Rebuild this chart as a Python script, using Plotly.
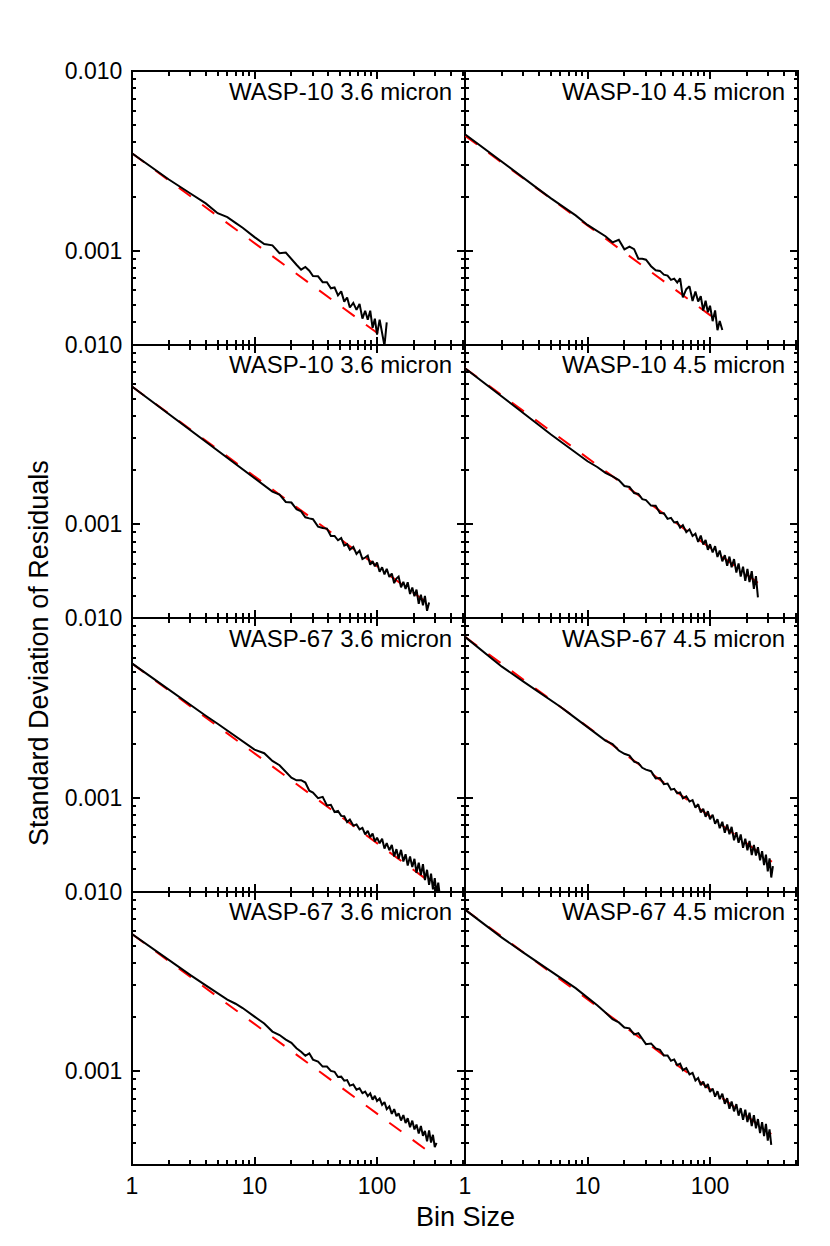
import numpy as np
import plotly.graph_objects as go
from plotly.subplots import make_subplots

# bin sizes used for the binned residual curves
bins = [1, 2, 3, 4, 5, 6, 7, 8, 10, 12, 14, 16, 18, 20, 22, 24, 26, 28, 30, 33,
        36, 39, 42, 45, 48, 51, 54, 57, 60, 64, 68, 72, 76, 80, 84, 88, 92, 96,
        100, 105, 110, 115, 120, 126, 132, 138, 144, 150, 157, 164, 171, 178,
        186, 194, 202, 210, 219, 228, 237, 246, 256, 266, 276, 286, 296, 306,
        316, 326]

# log10 of the standard deviation of the residuals
w10_36_a = [-2.458, -2.604, -2.682, -2.737, -2.792, -2.814, -2.846, -2.873, -2.925, -2.963,
            -2.971, -3.015, -3.011, -3.049, -3.079, -3.106, -3.091, -3.112, -3.142, -3.143,
            -3.176, -3.176, -3.21, -3.205, -3.249, -3.227, -3.284, -3.261, -3.317, -3.291,
            -3.33, -3.297, -3.379, -3.335, -3.385, -3.335, -3.43, -3.379, -3.468, -3.384,
            -3.45, -3.53, -3.40]
w10_45_a = [-2.352, -2.508, -2.597, -2.659, -2.708, -2.746, -2.779, -2.804, -2.857, -2.892,
            -2.92, -2.954, -2.94, -2.993, -2.978, -2.992, -3.045, -3.046, -3.051, -3.087,
            -3.11, -3.113, -3.134, -3.139, -3.163, -3.156, -3.178, -3.155, -3.261, -3.215,
            -3.199, -3.281, -3.228, -3.284, -3.254, -3.334, -3.279, -3.343, -3.307, -3.393,
            -3.333, -3.443, -3.392, -3.442]
w10_36_b = [-2.234, -2.388, -2.478, -2.541, -2.591, -2.631, -2.665, -2.696, -2.742, -2.784,
            -2.819, -2.836, -2.877, -2.88, -2.917, -2.929, -2.962, -2.968, -2.973, -3.014,
            -3.022, -3.025, -3.066, -3.066, -3.09, -3.078, -3.12, -3.112, -3.143, -3.127,
            -3.166, -3.148, -3.195, -3.186, -3.176, -3.226, -3.206, -3.235, -3.214, -3.265,
            -3.24, -3.28, -3.249, -3.294, -3.275, -3.329, -3.303, -3.292, -3.352, -3.322,
            -3.361, -3.324, -3.389, -3.353, -3.402, -3.365, -3.444, -3.393, -3.452, -3.40,
            -3.483, -3.437]
w10_45_b = [-2.132, -2.288, -2.383, -2.448, -2.50, -2.539, -2.575, -2.604, -2.65, -2.682,
            -2.715, -2.734, -2.755, -2.788, -2.793, -2.827, -2.832, -2.861, -2.866, -2.897,
            -2.898, -2.938, -2.939, -2.971, -2.965, -2.991, -2.988, -3.02, -3.006, -3.045,
            -3.029, -3.066, -3.053, -3.099, -3.064, -3.114, -3.089, -3.143, -3.112, -3.158,
            -3.123, -3.183, -3.147, -3.207, -3.173, -3.232, -3.181, -3.24, -3.195, -3.27,
            -3.219, -3.292, -3.237, -3.316, -3.25, -3.323, -3.262, -3.361, -3.29, -3.408]
w67_36_a = [-2.253, -2.401, -2.484, -2.544, -2.589, -2.626, -2.662, -2.689, -2.733, -2.753,
            -2.796, -2.82, -2.856, -2.889, -2.904, -2.903, -2.916, -2.962, -2.972, -3.003,
            -2.996, -3.044, -3.04, -3.08, -3.074, -3.102, -3.104, -3.136, -3.122, -3.156,
            -3.15, -3.177, -3.169, -3.205, -3.185, -3.22, -3.20, -3.244, -3.223, -3.254,
            -3.229, -3.284, -3.253, -3.293, -3.264, -3.328, -3.287, -3.341, -3.291, -3.356,
            -3.315, -3.378, -3.328, -3.387, -3.341, -3.419, -3.363, -3.432, -3.371, -3.459,
            -3.402, -3.486, -3.424, -3.511, -3.449, -3.536, -3.473, -3.55]
w67_45_a = [-2.105, -2.271, -2.354, -2.411, -2.455, -2.494, -2.528, -2.557, -2.61, -2.645,
            -2.683, -2.702, -2.738, -2.756, -2.766, -2.80, -2.808, -2.834, -2.844, -2.853,
            -2.893, -2.891, -2.925, -2.922, -2.956, -2.951, -2.976, -2.971, -3.004, -2.993,
            -3.022, -3.014, -3.056, -3.037, -3.082, -3.062, -3.107, -3.076, -3.12, -3.096,
            -3.146, -3.121, -3.17, -3.135, -3.196, -3.15, -3.204, -3.163, -3.238, -3.193,
            -3.252, -3.205, -3.28, -3.229, -3.293, -3.241, -3.32, -3.264, -3.323, -3.276,
            -3.349, -3.298, -3.376, -3.318, -3.411, -3.338, -3.445, -3.382]
w67_36_b = [-2.237, -2.384, -2.466, -2.523, -2.567, -2.602, -2.625, -2.649, -2.697, -2.735,
            -2.78, -2.799, -2.825, -2.843, -2.873, -2.892, -2.915, -2.901, -2.936, -2.947,
            -2.975, -2.975, -2.999, -3.004, -3.033, -3.031, -3.053, -3.05, -3.081, -3.075,
            -3.104, -3.096, -3.123, -3.114, -3.139, -3.124, -3.159, -3.138, -3.167, -3.153,
            -3.188, -3.173, -3.212, -3.197, -3.238, -3.212, -3.251, -3.235, -3.275, -3.245,
            -3.289, -3.262, -3.312, -3.276, -3.325, -3.298, -3.347, -3.306, -3.36, -3.333,
            -3.391, -3.33, -3.398, -3.355, -3.423, -3.40]
w67_45_b = [-2.101, -2.257, -2.34, -2.397, -2.441, -2.478, -2.509, -2.538, -2.591, -2.633,
            -2.674, -2.711, -2.729, -2.757, -2.762, -2.796, -2.789, -2.82, -2.85, -2.846,
            -2.874, -2.882, -2.913, -2.913, -2.942, -2.935, -2.967, -2.959, -2.995, -2.984,
            -3.018, -3.01, -3.052, -3.038, -3.078, -3.058, -3.093, -3.072, -3.116, -3.097,
            -3.142, -3.112, -3.156, -3.126, -3.182, -3.151, -3.21, -3.169, -3.224, -3.184,
            -3.248, -3.206, -3.271, -3.215, -3.284, -3.232, -3.306, -3.245, -3.319, -3.267,
            -3.345, -3.284, -3.362, -3.294, -3.387, -3.324, -3.411]

# red dashed 1/sqrt(N) expectation: end points (bin size, std dev)
red_w10_36_a = ([1, 115], [0.00348, 0.000325])
red_w10_45_a = ([1, 120], [0.004365, 0.000399])
red_w10_36_b = ([1, 260], [0.00583, 0.000362])
red_w10_45_b = ([1, 246], [0.00738, 0.000471])
red_w67_36_a = ([1, 300], [0.00558, 0.000322])
red_w67_45_a = ([1, 320], [0.00785, 0.000439])
red_w67_36_b = ([1, 297], [0.00579, 0.000336])
red_w67_45_b = ([1, 316], [0.00793, 0.000446])

titles = ["WASP-10 3.6 micron", "WASP-10 4.5 micron",
          "WASP-10 3.6 micron", "WASP-10 4.5 micron",
          "WASP-67 3.6 micron", "WASP-67 4.5 micron",
          "WASP-67 3.6 micron", "WASP-67 4.5 micron"]

curves = [w10_36_a, w10_45_a, w10_36_b, w10_45_b, w67_36_a, w67_45_a, w67_36_b, w67_45_b]
reds = [red_w10_36_a, red_w10_45_a, red_w10_36_b, red_w10_45_b,
        red_w67_36_a, red_w67_45_a, red_w67_36_b, red_w67_45_b]

font = "Liberation Sans, Arial, sans-serif"

fig = make_subplots(rows=4, cols=2, horizontal_spacing=0, vertical_spacing=0)

for i in range(8):
    row = i // 2 + 1
    col = i % 2 + 1
    rx, ry = reds[i]
    fig.add_trace(go.Scatter(x=rx, y=ry, mode="lines",
                             line=dict(color="#ff0000", width=2, dash="15px,14px"),
                             showlegend=False, hoverinfo="skip"), row=row, col=col)
    y = 10 ** np.array(curves[i])
    fig.add_trace(go.Scatter(x=bins[:len(y)], y=y, mode="lines",
                             line=dict(color="black", width=2),
                             showlegend=False), row=row, col=col)

    n = "" if i == 0 else str(i + 1)
    fig.add_annotation(text=titles[i], xref="x%s domain" % n, yref="y%s domain" % n,
                       x=1, y=1, xanchor="right", yanchor="middle",
                       xshift=-11, yshift=-20, showarrow=False,
                       font=dict(family=font, size=24, color="black"))

x_minor = [2, 3, 4, 5, 6, 7, 8, 9, 20, 30, 40, 50, 60, 70, 80, 90, 200, 300, 400, 500]
y_minor = [3e-4, 4e-4, 5e-4, 6e-4, 7e-4, 8e-4, 9e-4,
           2e-3, 3e-3, 4e-3, 5e-3, 6e-3, 7e-3, 8e-3, 9e-3]

fig.update_xaxes(type="log", range=[0, 2.718], tickmode="array",
                 tickvals=[1, 10, 100], ticktext=["1", "10", "100"],
                 ticks="inside", ticklen=8, tickwidth=1.5, tickcolor="black",
                 minor=dict(tickmode="array", tickvals=x_minor, ticks="inside",
                            ticklen=5, tickwidth=1.5, tickcolor="black", showgrid=False),
                 showline=True, linecolor="black", linewidth=1, mirror="ticks",
                 showgrid=False, zeroline=False, showticklabels=False, automargin=False,
                 tickfont=dict(family=font, size=23, color="black"))
fig.update_xaxes(showticklabels=True, ticklabelstandoff=0, row=4)

fig.update_yaxes(type="log", range=[np.log10(3e-4), -2], tickmode="array",
                 tickvals=[0.001, 0.01], ticktext=["0.001", "0.010"],
                 ticks="inside", ticklen=8, tickwidth=1.5, tickcolor="black",
                 minor=dict(tickmode="array", tickvals=y_minor, ticks="inside",
                            ticklen=4, tickwidth=1.5, tickcolor="black", showgrid=False),
                 showline=True, linecolor="black", linewidth=1, mirror="ticks",
                 showgrid=False, zeroline=False, showticklabels=False, automargin=False,
                 tickfont=dict(family=font, size=23, color="black"))
fig.update_yaxes(showticklabels=True, ticklabelstandoff=4, col=1)

# heavier outer frame round the whole grid
fig.add_shape(type="rect", xref="paper", yref="paper", x0=0, x1=1, y0=0, y1=1,
              line=dict(color="black", width=2), layer="above")

fig.add_annotation(text="Bin Size", xref="paper", yref="paper", x=0.5, y=0,
                   xanchor="center", yanchor="middle", yshift=-52, showarrow=False,
                   font=dict(family=font, size=27, color="black"))
fig.add_annotation(text="Standard Deviation of Residuals", xref="paper", yref="paper",
                   x=0, y=0.468, xanchor="center", yanchor="middle", xshift=-93,
                   textangle=-90, showarrow=False,
                   font=dict(family=font, size=27, color="black"))

fig.update_layout(width=830, height=1246,
                  margin=dict(l=124, r=40, t=63, b=89),
                  plot_bgcolor="white", paper_bgcolor="white")

fig.write_html("out.html")
